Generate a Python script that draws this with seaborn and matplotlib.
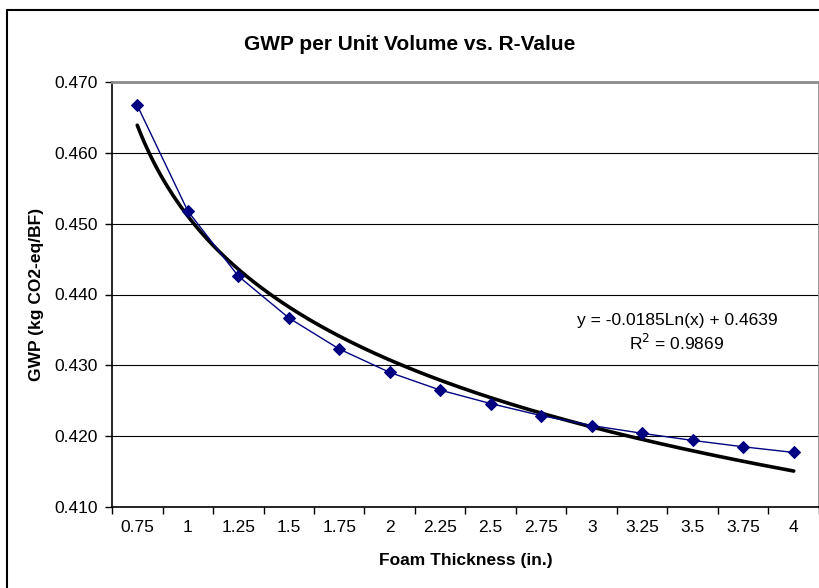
import numpy as np
import pandas as pd
import matplotlib
matplotlib.use("Agg")
import matplotlib.pyplot as plt
from matplotlib.lines import Line2D
from matplotlib.ticker import FixedLocator, NullFormatter
import seaborn as sns

# data
thickness = ["0.75", "1", "1.25", "1.5", "1.75", "2", "2.25", "2.5",
             "2.75", "3", "3.25", "3.5", "3.75", "4"]
gwp = [0.4667, 0.4518, 0.4426, 0.4367, 0.4323, 0.4290, 0.4265, 0.4246,
       0.4229, 0.4215, 0.4204, 0.4194, 0.4185, 0.4177]

# log trendline as printed on the chart (x = category number 1..n)
trend_slope = -0.0185
trend_intercept = 0.4639
trend_r2 = 0.9869

df = pd.DataFrame({"pos": np.arange(len(thickness)), "gwp": gwp})

sns.set_theme(style="white")
plt.rcParams["font.family"] = ["Liberation Sans", "DejaVu Sans"]
plt.rcParams["text.color"] = "black"
plt.rcParams["xtick.color"] = "black"
plt.rcParams["ytick.color"] = "black"
plt.rcParams["axes.labelcolor"] = "black"

fig = plt.figure(figsize=(8.2, 5.88), dpi=100)
ax = fig.add_axes([112 / 820, 1 - 507 / 588, (819 - 112) / 820, (507 - 82) / 588])

# trendline, drawn as a smooth curve across the categories
xt = np.linspace(1, len(thickness), 200)
trend = pd.DataFrame({"pos": xt - 1, "fit": trend_slope * np.log(xt) + trend_intercept})
sns.lineplot(data=trend, x="pos", y="fit", ax=ax, color="black", lw=2.6, zorder=3)

sns.lineplot(data=df, x="pos", y="gwp", ax=ax, color="#000080", lw=1.0,
             marker="D", markersize=6.3, markeredgecolor="#000080", zorder=4)

ax.set_xlim(-0.5, len(thickness) - 0.5)
ax.set_ylim(0.410, 0.470)
ax.set_yticks(np.arange(0.410, 0.4701, 0.010))
ax.set_yticklabels([f"{v:.3f}" for v in np.arange(0.410, 0.4701, 0.010)], fontsize=12.5)

# category labels in the middle, tick marks on the boundaries
ax.set_xticks(np.arange(len(thickness)))
ax.set_xticklabels(thickness, fontsize=12.5)
ax.tick_params(axis="x", which="major", length=0, pad=9)
ax.xaxis.set_minor_locator(FixedLocator(np.arange(-0.5, len(thickness), 1.0)))
ax.xaxis.set_minor_formatter(NullFormatter())
ax.tick_params(axis="x", which="minor", bottom=True, length=5, width=1, color="black", direction="out")
ax.tick_params(axis="y", left=True, length=5, width=1, color="black", direction="out", pad=5)

ax.grid(axis="y", color="black", lw=0.8)
ax.set_axisbelow(True)
for side in ["left", "bottom"]:
    ax.spines[side].set_color("black")
    ax.spines[side].set_linewidth(1.2)
for side in ["top", "right"]:
    ax.spines[side].set_color("#8c8c8c")
    ax.spines[side].set_linewidth(2)

ax.set_xlabel("")
ax.set_ylabel("")
fig.text(465.5 / 820, 1 - 561 / 588, "Foam Thickness (in.)", ha="center", va="center",
         fontsize=12.5, fontweight="bold")
fig.text(37 / 820, 1 - 294.5 / 588, "GWP (kg CO2-eq/BF)", ha="center", va="center",
         rotation=90, fontsize=12.5, fontweight="bold")
fig.text(0.5, 1 - 50 / 588, "GWP per Unit Volume vs. R-Value", ha="center", va="baseline",
         fontsize=15, fontweight="bold")

fig.text(677 / 820, 1 - 320 / 588, f"y = {trend_slope}Ln(x) + {trend_intercept}",
         ha="center", va="center", fontsize=12.5)
fig.text(677 / 820, 1 - 343 / 588, f"R$^2$ = {trend_r2}", ha="center", va="center", fontsize=12.5)

# outer chart border (cropped on right and bottom)
fig.add_artist(Line2D([7 / 820, 1.0], [1 - 10 / 588] * 2, color="black", lw=1.5))
fig.add_artist(Line2D([7 / 820] * 2, [0.0, 1 - 10 / 588], color="black", lw=1.5))

fig.savefig("out.png", dpi=100)
